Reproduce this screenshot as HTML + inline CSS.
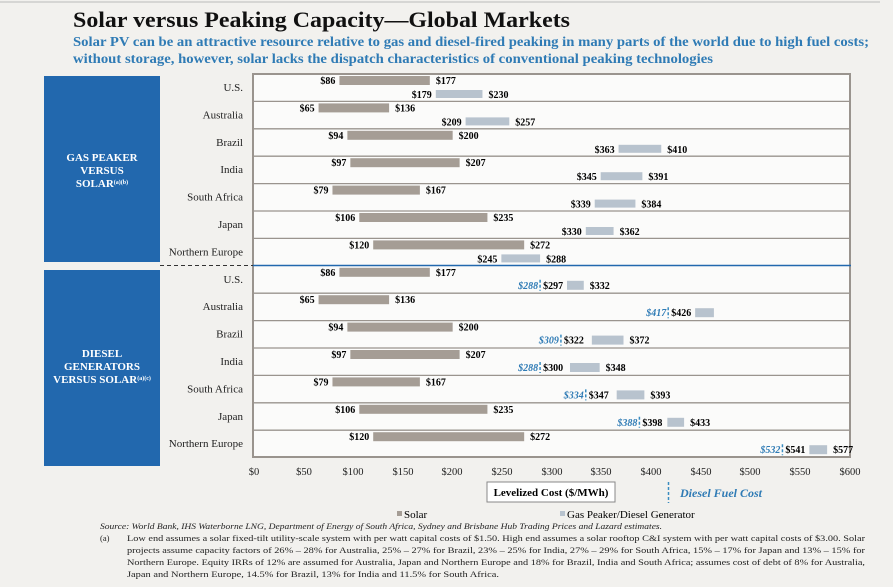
<!DOCTYPE html>
<html><head><meta charset="utf-8"><style>
body{margin:0;background:#f2f1ee;width:893px;height:582px;overflow:hidden;font-family:"Liberation Serif",serif;}
</style></head><body>
<svg width="893" height="582" xmlns="http://www.w3.org/2000/svg" font-family="Liberation Serif, serif">
<line x1="0" y1="2" x2="880" y2="2" stroke="#bbb" stroke-width="1"/>
<text x="73" y="27" font-size="22" font-weight="bold" fill="#111" textLength="497" lengthAdjust="spacingAndGlyphs">Solar versus Peaking Capacity—Global Markets</text>
<text x="73" y="46" font-size="13.6" font-weight="bold" fill="#2f7bb5" textLength="796" lengthAdjust="spacingAndGlyphs">Solar PV can be an attractive resource relative to gas and diesel-fired peaking in many parts of the world due to high fuel costs;</text>
<text x="73" y="63" font-size="13.6" font-weight="bold" fill="#2f7bb5" textLength="640" lengthAdjust="spacingAndGlyphs">without storage, however, solar lacks the dispatch characteristics of conventional peaking technologies</text>
<rect x="44" y="76" width="116" height="186" fill="#2268ae"/>
<rect x="44" y="270" width="116" height="196" fill="#2268ae"/>
<g fill="#fff" font-size="11" font-weight="bold" text-anchor="middle">
<text x="102" y="161">GAS PEAKER</text><text x="102" y="174">VERSUS</text><text x="102" y="187">SOLAR<tspan font-size="6" dy="-3">(a)(b)</tspan></text>
<text x="102" y="357">DIESEL</text><text x="102" y="370">GENERATORS</text><text x="102" y="383">VERSUS SOLAR<tspan font-size="6" dy="-3">(a)(c)</tspan></text>
</g>
<rect x="253" y="74" width="597" height="383" fill="#fbfbfa" stroke="#9a948e" stroke-width="2"/>
<g id="rows"></g>
<line x1="160" y1="265.5" x2="253" y2="265.5" stroke="#333" stroke-dasharray="4,3"/>
<line x1="253" y1="265.5" x2="851" y2="265.5" stroke="#2268ae" stroke-width="1.5"/>
<g font-size="10.5" text-anchor="middle" fill="#222">
<text x="254" y="475">$0</text><text x="304" y="475">$50</text><text x="353" y="475">$100</text><text x="403" y="475">$150</text><text x="452" y="475">$200</text><text x="502" y="475">$250</text><text x="552" y="475">$300</text><text x="601" y="475">$350</text><text x="651" y="475">$400</text><text x="701" y="475">$450</text><text x="750" y="475">$500</text><text x="800" y="475">$550</text><text x="850" y="475">$600</text>
</g>
<rect x="487" y="482" width="128" height="20" fill="#fff" stroke="#888"/>
<text x="551" y="496" font-size="11" font-weight="bold" text-anchor="middle">Levelized Cost ($/MWh)</text>
<line x1="668.5" y1="482" x2="668.5" y2="503" stroke="#3a8cc0" stroke-dasharray="3,2" stroke-width="1.5"/>
<text x="680" y="497" font-size="12" font-style="italic" font-weight="bold" fill="#2f7bb5">Diesel Fuel Cost</text>
<rect x="397" y="511" width="5" height="5" fill="#a59d95"/><text x="404" y="518" font-size="11">Solar</text>
<rect x="560" y="511" width="5" height="5" fill="#b8c3ce"/><text x="567" y="518" font-size="11">Gas Peaker/Diesel Generator</text>
<g font-size="8.5" fill="#222" lengthAdjust="spacingAndGlyphs">
<text x="100" y="529" font-style="italic" textLength="562" lengthAdjust="spacingAndGlyphs">Source:   World Bank, IHS Waterborne LNG, Department of Energy of South Africa, Sydney and Brisbane Hub Trading Prices and Lazard estimates.</text>
<text x="100" y="541">(a)</text>
<text x="127" y="541" textLength="738" lengthAdjust="spacingAndGlyphs">Low end assumes a solar fixed-tilt utility-scale system with per watt capital costs of $1.50. High end assumes a solar rooftop C&amp;I system with per watt capital costs of $3.00. Solar</text>
<text x="127" y="553" textLength="738" lengthAdjust="spacingAndGlyphs">projects assume capacity factors of 26% – 28% for Australia, 25% – 27% for Brazil, 23% – 25% for India, 27% – 29% for South Africa, 15% – 17% for Japan and 13% – 15% for</text>
<text x="127" y="565" textLength="738" lengthAdjust="spacingAndGlyphs">Northern Europe. Equity IRRs of 12% are assumed for Australia, Japan and Northern Europe and 18% for Brazil, India and South Africa; assumes cost of debt of 8% for Australia,</text>
<text x="127" y="577" textLength="372" lengthAdjust="spacingAndGlyphs">Japan and Northern Europe, 14.5% for Brazil, 13% for India and 11.5% for South Africa.</text>
</g>
</svg>
<script>
const X=v=>254+v*0.9933;
const names=["U.S.","Australia","Brazil","India","South Africa","Japan","Northern Europe"];
const solar=[[86,177],[65,136],[94,200],[97,207],[79,167],[106,235],[120,272]];
const gas=[[179,230],[209,257],[363,410],[345,391],[339,384],[330,362],[245,288]];
const dsl=[[288,297,332],[417,426,null],[309,322,372],[288,300,348],[334,347,393],[388,398,433],[532,541,577]];
let s="";
for(let i=0;i<14;i++){
 const top=74+i*27.4, k=i%7;
 if(i>0&&i!=7) s+=`<line x1="254" x2="850" y1="${top}" y2="${top}" stroke="#9a948e" stroke-width="1.3"/>`;
 s+=`<text x="243" y="${top+17}" font-size="11" text-anchor="end" fill="#222">${names[k]}</text>`;
 const [a,b]=solar[k];
 s+=`<rect x="${X(a)}" y="${top+2}" width="${X(b)-X(a)}" height="9" fill="#a59d95"/>`;
 s+=`<text x="${X(a)-4}" y="${top+10}" font-size="10" font-weight="bold" text-anchor="end">$${a}</text>`;
 s+=`<text x="${X(b)+6}" y="${top+10}" font-size="10" font-weight="bold">$${b}</text>`;
 if(i<7){const [c,d]=gas[k];
  s+=`<rect x="${X(c)+4}" y="${top+16}" width="${X(d)-X(c)-4}" height="8" fill="#b8c3ce"/>`;
  s+=`<text x="${X(c)}" y="${top+24}" font-size="10" font-weight="bold" text-anchor="end">$${c}</text>`;
  s+=`<text x="${X(d)+6}" y="${top+24}" font-size="10" font-weight="bold">$${d}</text>`;
 } else {const [f,c,d]=dsl[k];
  s+=`<line x1="${X(f)}" x2="${X(f)}" y1="${top+14}" y2="${top+25}" stroke="#3a8cc0" stroke-width="1.5" stroke-dasharray="3,2"/>`;
  s+=`<text x="${X(f)-2}" y="${top+23}" font-size="10" font-weight="bold" font-style="italic" fill="#2f7bb5" text-anchor="end">$${f}</text>`;
  s+=`<text x="${X(f)+3}" y="${top+23}" font-size="10" font-weight="bold">$${c}</text>`;
  const e=d||463;
  s+=`<rect x="${X(c)+18}" y="${top+15}" width="${X(e)-X(c)-18}" height="9" fill="#b8c3ce"/>`;
  if(d) s+=`<text x="${X(d)+6}" y="${top+23}" font-size="10" font-weight="bold">$${d}</text>`;
 }
}
document.getElementById("rows").innerHTML=s;
</script>
</body></html>
